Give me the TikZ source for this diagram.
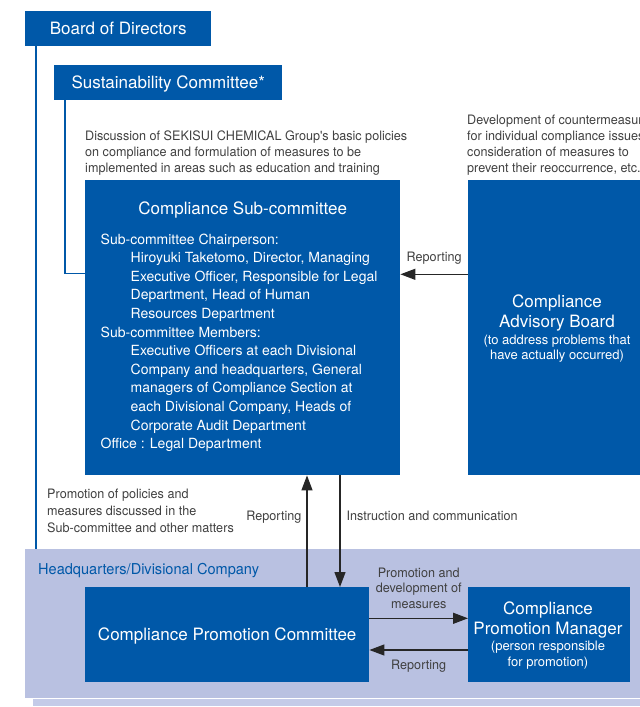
\documentclass[tikz,border=0pt]{standalone}
\usepackage{fontspec}
\setmainfont{TeX Gyre Heros}
\newfontfamily\narrowfont[FakeStretch=0.97]{TeX Gyre Heros}
\usetikzlibrary{positioning, arrows.meta, calc}
\definecolor{boxblue}{RGB}{0,88,168}
\definecolor{bandblue}{RGB}{185,193,225}
\definecolor{stripblue}{RGB}{196,203,232}
\definecolor{labelgray}{RGB}{64,64,64}

\begin{document}
\begin{tikzpicture}[x=1pt, y=-1pt,
    bluebox/.style={rectangle, fill=boxblue, anchor=north west, inner sep=0pt, text=white},
    onetitle/.style={font=\fontsize{17}{20}\selectfont, text height=12.2pt, text depth=0pt},
    whitetext/.style={inner sep=0pt, text=white, align=center},
    note/.style={inner sep=0pt, text=labelgray, font=\narrowfont\fontsize{13}{16}\selectfont},
    link/.style={draw=boxblue, line width=1.5pt},
    arr/.style={-{Triangle[length=15pt, width=11pt]}, line width=1.3pt, draw=black!85}]

\useasboundingbox (0,0) rectangle (640,707);

% headquarters band
\fill[stripblue] (33,699) rectangle (640,706);
\node (HQ) [fill=bandblue, anchor=north west, inner sep=0pt, minimum width=615pt, minimum height=149pt] at (25,549) {};
\node (HQlabel) [inner sep=0pt, anchor=base west, text=boxblue, font=\narrowfont\fontsize{15}{18}\selectfont] at (38,574) {Headquarters/Divisional Company};

% boxes
\node (Board) [bluebox, onetitle, minimum width=186pt, minimum height=35pt] at (25,11) {Board of Directors};
\node (Sust) [bluebox, onetitle, minimum width=228pt, minimum height=35pt] at (54,65) {Sustainability Committee*};
\node (Sub) [bluebox, minimum width=315pt, minimum height=295pt] at (85,180) {};
\node (Adv) [bluebox, minimum width=182pt, minimum height=295pt] at (468,180) {};
\node (CPC) [bluebox, onetitle, minimum width=284pt, minimum height=95pt] at (85,587) {Compliance Promotion Committee};
\node (CPM) [bluebox, minimum width=162pt, minimum height=95pt] at (468,587) {};

% blue lines
\draw[link] ([xshift=11pt]Board.south west) -- ([xshift=11pt]HQ.north west);
\draw[link] ([xshift=11pt]Sust.south west) |- (Sub.west |- 0,273.5);

% texts in the boxes
\node (SubTitle) [whitetext, anchor=base, font=\fontsize{17}{20}\selectfont] at (Sub.north |- 0,214.3) {Compliance Sub-committee};
\node (SubBody) [whitetext, align=left, anchor=north west, font=\fontsize{14}{18.6}\selectfont] at (100.5,233.4) {Sub-committee Chairperson:\\
\hspace*{30pt}Hiroyuki Taketomo, Director, Managing\\
\hspace*{30pt}Executive Officer, Responsible for Legal\\
\hspace*{30pt}Department, Head of Human\\
\hspace*{30pt}Resources Department\\
Sub-committee Members:\\
\hspace*{30pt}Executive Officers at each Divisional\\
\hspace*{30pt}Company and headquarters, General\\
\hspace*{30pt}managers of Compliance Section at\\
\hspace*{30pt}each Divisional Company, Heads of\\
\hspace*{30pt}Corporate Audit Department\\
Office : Legal Department};
\node (AdvTitle) [whitetext, anchor=north, font=\fontsize{17}{19.7}\selectfont] at (557,294.8) {Compliance\\Advisory Board};
\node (AdvNote) [whitetext, anchor=north, font=\fontsize{13}{15}\selectfont] at (557,334.5) {(to address problems that\\have actually occurred)};
\node (CPMTitle) [whitetext, anchor=north, font=\fontsize{17}{19.3}\selectfont] at (548,601.8) {Compliance\\Promotion Manager};
\node (CPMNote) [whitetext, anchor=north, font=\fontsize{13}{16}\selectfont] at (548,641.2) {(person responsible\\for promotion)};

% notes
\node (Disc) [note, align=left, anchor=north west] at (85,130.7) {Discussion of SEKISUI CHEMICAL Group's basic policies\\on compliance and formulation of measures to be\\implemented in areas such as education and training};
\node (Dev) [note, align=left, anchor=north west] at (467,114.7) {Development of countermeasures\\for individual compliance issues,\\consideration of measures to\\prevent their reoccurrence, etc.};
\node (Promo) [note, align=left, anchor=north west, font=\narrowfont\fontsize{13}{16.8}\selectfont] at (47,488.7) {Promotion of policies and\\measures discussed in the\\Sub-committee and other matters};

% arrows
\draw[arr] (Adv.west |- 0,274.3) -- (Sub.east |- 0,274.3) node[note, midway, anchor=base, yshift=12.6pt] {Reporting};
\draw[arr] (CPC.north -| 307,0) -- (Sub.south -| 307,0) node[note, pos=0.6, anchor=base east, xshift=-5pt] {Reporting};
\draw[arr] (Sub.south -| 340,0) -- (CPC.north -| 340,0) node[note, pos=0.4, anchor=base west, xshift=6pt] {Instruction and communication};
\draw[arr] (CPC.east |- 0,618.3) -- (CPM.west |- 0,618.3) node[note, midway, align=center, anchor=south, yshift=9pt, font=\narrowfont\fontsize{13}{15.7}\selectfont] {Promotion and\\development of\\measures};
\draw[arr] (CPM.west |- 0,650) -- (CPC.east |- 0,650) node[note, midway, anchor=base, yshift=-19pt] {Reporting};
\end{tikzpicture}
\end{document}
